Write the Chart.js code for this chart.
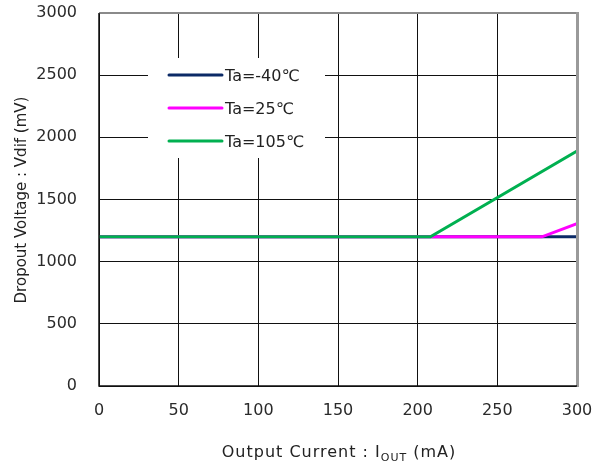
<!DOCTYPE html>
<html>
<head>
<meta charset="utf-8">
<script src="https://cdn.jsdelivr.net/npm/chart.js@4"></script>
<style>
html,body{margin:0;padding:0;background:#fff;}
#wrap{width:602px;height:465px;position:relative;}
</style>
</head>
<body>
<div id="wrap"><canvas id="c" width="602" height="465"></canvas></div>
<script>
// ---- data ----
const seriesLabels = ["Ta=-40\u2103", "Ta=25\u2103", "Ta=105\u2103"];
const currentM40 = [0, 300];
const vdifM40 = [1200, 1200];
const current25 = [0, 278, 300];
const vdif25 = [1200, 1200, 1305];
const current105 = [0, 208, 300];
const vdif105 = [1200, 1200, 1890];
const xTicks = [0, 50, 100, 150, 200, 250, 300];
const yTicks = [0, 500, 1000, 1500, 2000, 2500, 3000];
const seriesColors = ["#0b2a66", "#ff00ff", "#00b050"];

function pts(xs, ys){ return xs.map((x,i)=>({x:x, y:ys[i]})); }

const FONT = "'DejaVu Sans', 'Noto Sans CJK JP', sans-serif";

const legendPlugin = {
  id: 'customLegend',
  afterDatasetsDraw(chart){
    const ctx = chart.ctx;
    ctx.save();
    ctx.fillStyle = '#fff';
    ctx.fillRect(148, 58, 177, 100);
    const rowsY = [75, 108, 141];
    chart.data.datasets.forEach((ds, i) => {
      ctx.strokeStyle = ds.borderColor;
      ctx.lineWidth = 3;
      ctx.lineCap = 'round';
      ctx.beginPath();
      ctx.moveTo(169, rowsY[i]);
      ctx.lineTo(222, rowsY[i]);
      ctx.stroke();
      ctx.fillStyle = '#222';
      ctx.font = "16px " + FONT;
      ctx.textBaseline = 'middle';
      ctx.textAlign = 'left';
      ctx.fillText(ds.label, 225, rowsY[i] + 2);
    });
    ctx.restore();
  },
  afterDraw(chart){
    const ctx = chart.ctx;
    const a = chart.chartArea;
    ctx.save();
    ctx.strokeStyle = '#8a8a8a';
    ctx.lineWidth = 2;
    ctx.beginPath(); ctx.moveTo(a.left, a.top); ctx.lineTo(a.right, a.top); ctx.stroke();
    ctx.lineWidth = 3;
    ctx.strokeStyle = '#9a9a9a';
    ctx.beginPath(); ctx.moveTo(a.right + 0.5, a.top - 1); ctx.lineTo(a.right + 0.5, a.bottom + 1); ctx.stroke();
    ctx.strokeStyle = '#111';
    ctx.lineWidth = 1.5;
    ctx.beginPath(); ctx.moveTo(a.left, a.top); ctx.lineTo(a.left, a.bottom); ctx.lineTo(a.right, a.bottom); ctx.stroke();
    // x title with subscript
    ctx.fillStyle = '#222';
    ctx.textBaseline = 'alphabetic';
    ctx.textAlign = 'left';
    const big = "16px " + FONT, small = "11px " + FONT;
    ctx.letterSpacing = '1px';
    const parts = [["Output Current : I", big, 0], ["OUT", small, 4], [" (mA)", big, 0]];
    let total = 0;
    parts.forEach(p => { ctx.font = p[1]; total += ctx.measureText(p[0]).width; });
    let x = 339 - total / 2;
    const baseY = 457;
    parts.forEach(p => { ctx.font = p[1]; ctx.fillText(p[0], x, baseY + p[2]); x += ctx.measureText(p[0]).width; });
    ctx.letterSpacing = '0px';
    // y title
    ctx.translate(22, 200);
    ctx.rotate(-Math.PI / 2);
    ctx.font = "15px " + FONT;
    ctx.textAlign = 'center';
    ctx.textBaseline = 'middle';
    ctx.fillText("Dropout Voltage : Vdif (mV)", 0, 0);
    ctx.restore();
  }
};

new Chart(document.getElementById('c'), {
  type: 'line',
  data: {
    datasets: [
      { label: seriesLabels[0], data: pts(currentM40, vdifM40), borderColor: seriesColors[0], order: 3 },
      { label: seriesLabels[1], data: pts(current25, vdif25), borderColor: seriesColors[1], order: 2 },
      { label: seriesLabels[2], data: pts(current105, vdif105), borderColor: seriesColors[2], order: 1 }
    ]
  },
  options: {
    responsive: false,
    animation: false,
    devicePixelRatio: 1,
    layout: { padding: { top: 13, right: 25, left: 0, bottom: 0 } },
    elements: {
      line: { borderWidth: 3, tension: 0, borderCapStyle: 'butt' },
      point: { radius: 0, hoverRadius: 0 }
    },
    plugins: { legend: { display: false }, tooltip: { enabled: false } },
    scales: {
      x: {
        type: 'linear', min: 0, max: 300,
        afterFit(s){ s.height = 79; s.paddingLeft = 0; s.paddingRight = 0; },
        afterBuildTicks(s){ s.ticks = xTicks.map(v => ({value: v})); },
        grid: { color: '#111', lineWidth: 1, drawTicks: false },
        border: { display: false },
        ticks: { padding: 15, color: '#2a2a2a', font: { family: FONT, size: 16 }, callback: v => String(v) }
      },
      y: {
        type: 'linear', min: 0, max: 3000,
        afterFit(s){ s.width = 99; s.paddingTop = 0; s.paddingBottom = 0; },
        afterBuildTicks(s){ s.ticks = yTicks.map(v => ({value: v})); },
        grid: { color: '#111', lineWidth: 1, drawTicks: false },
        border: { display: false },
        ticks: { padding: 22, color: '#2a2a2a', font: { family: FONT, size: 16 }, callback: v => String(v) }
      }
    }
  },
  plugins: [legendPlugin]
});
</script>
</body>
</html>
